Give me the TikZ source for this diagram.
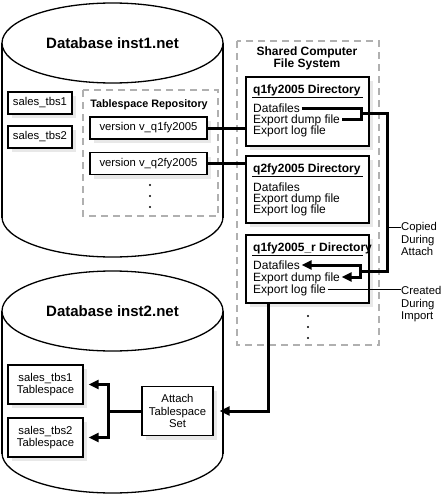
\documentclass[tikz,border=0pt]{standalone}
\usepackage{fontspec}
\setmainfont{Liberation Sans}
\usetikzlibrary{arrows.meta,calc,shadows}
\definecolor{dashgray}{HTML}{B0B0B0}
\definecolor{shadowgray}{HTML}{E8E8E8}
\begin{document}
\begin{tikzpicture}[x=1pt,y=-1pt,
  box/.style={draw, line width=1.2pt, fill=white, inner sep=0pt, align=center, font=\fontsize{11.3}{12.5}\selectfont},
  shadowed/.style={drop shadow={shadow xshift=4pt,shadow yshift=-4pt,fill=shadowgray,opacity=1}},
  dashedbox/.style={draw=dashgray, line width=2.5pt, dash pattern=on 7pt off 5pt},
  thickline/.style={line width=3pt, line join=miter},
  thinline/.style={line width=0.8pt},
  arr/.style={-{Triangle[length=10pt,width=9pt]}},
  cyl/.style={line width=1.3pt},
  dirtext/.style={anchor=west, inner sep=0pt, inner xsep=1.5pt, text height=8.5pt, text depth=0pt, font=\fontsize{12}{12}\selectfont},
  dirtitle/.style={dirtext, font=\bfseries\fontsize{12}{12}\selectfont},
  lbl/.style={anchor=north west, inner sep=0pt, align=left, font=\fontsize{11.3}{12.5}\selectfont},
  ]
\useasboundingbox (0,0) rectangle (443,495);

% ---------- Cylinder 1 ----------
\draw[cyl] (112.5,217) ellipse [x radius=110.5, y radius=40];
\fill[white] (2,43) rectangle (223,217);
\draw[cyl] (2,43) -- (2,217.5);
\draw[cyl] (223,43) -- (223,217.5);
\draw[cyl, fill=white] (112.5,43) ellipse [x radius=110.5, y radius=40];
\node[font=\bfseries\fontsize{15}{15}\selectfont] (db1) at (112.5,43) {Database inst1.net};

% ---------- Cylinder 2 ----------
\draw[cyl] (112.5,453) ellipse [x radius=110.5, y radius=40];
\fill[white] (2,311) rectangle (223,453);
\draw[cyl] (2,311) -- (2,453.5);
\draw[cyl] (223,311) -- (223,453.5);
\draw[cyl, fill=white] (112.5,311) ellipse [x radius=110.5, y radius=40];
\node[font=\bfseries\fontsize{15}{15}\selectfont] (db2) at (112.5,311) {Database inst2.net};

% ---------- Inst1 contents ----------
\node[box, shadowed, minimum width=64pt, minimum height=22pt] (tbs1) at (40,103) {sales\_tbs1};
\node[box, shadowed, minimum width=64pt, minimum height=22pt] (tbs2) at (40,137) {sales\_tbs2};
\draw[dashedbox] (83,90) rectangle (218,216);
\node[font=\bfseries\fontsize{10.8}{12}\selectfont] (repo) at (149,105) {Tablespace Repository};
\node[box, shadowed, minimum width=117pt, minimum height=22pt] (v1) at (148.5,128) {version v\_q1fy2005};
\node[box, shadowed, minimum width=117pt, minimum height=22pt] (v2) at (148.5,163.5) {version v\_q2fy2005};
\fill (150,185) circle (1.2);
\fill (150,196) circle (1.2);
\fill (150,207) circle (1.2);

% ---------- Shared file system ----------
\draw[dashedbox] (237,41) rectangle (379,345);
\node[align=center, font=\bfseries\fontsize{12}{12}\selectfont] (shared) at (307,58) {Shared Computer\\File System};

% Directory 1
\node[box, shadowed, minimum width=123pt, minimum height=69pt] (d1) at (307.5,111.5) {};
\node[dirtitle] (d1t) at (251.5,89) {q1fy2005 Directory};
\draw[line width=1.2pt] ($(d1.north west)+(7,21)$) -- ($(d1.north east)+(-7,21)$);
\node[dirtext] (d1a) at (251.5,108) {Datafiles};
\node[dirtext] (d1b) at (251.5,119) {Export dump file};
\node[dirtext] (d1c) at (251.5,130) {Export log file};

% Directory 2
\node[box, shadowed, minimum width=123pt, minimum height=67pt] (d2) at (307.5,189.5) {};
\node[dirtitle] (d2t) at (251.5,168) {q2fy2005 Directory};
\draw[line width=1.2pt] ($(d2.north west)+(7,21)$) -- ($(d2.north east)+(-7,21)$);
\node[dirtext] (d2a) at (251.5,187) {Datafiles};
\node[dirtext] (d2b) at (251.5,198) {Export dump file};
\node[dirtext] (d2c) at (251.5,209) {Export log file};

% Directory 3
\node[box, shadowed, minimum width=123pt, minimum height=68pt] (d3) at (307.5,269) {};
\node[dirtitle] (d3t) at (251.5,247) {q1fy2005\_r Directory};
\draw[line width=1.2pt] ($(d3.north west)+(7,21)$) -- ($(d3.north east)+(-7,21)$);
\node[dirtext] (d3a) at (251.5,265) {Datafiles};
\node[dirtext] (d3b) at (251.5,277) {Export dump file};
\node[dirtext] (d3c) at (251.5,289) {Export log file};

\fill (308,316) circle (1.2);
\fill (308,327) circle (1.2);
\fill (308,338) circle (1.2);

% ---------- Inst2 contents ----------
\node[box, shadowed, minimum width=75pt, minimum height=39pt] (tt1) at (45.5,384.5) {sales\_tbs1\\Tablespace};
\node[box, shadowed, minimum width=75pt, minimum height=39pt] (tt2) at (45.5,437.5) {sales\_tbs2\\Tablespace};
\node[box, shadowed, minimum width=71pt, minimum height=49pt, font=\fontsize{11.3}{12.5}\selectfont] (attach) at (177.5,411) {Attach\\Tablespace\\Set};

% ---------- Connectors ----------
\draw[thickline] (v1.east) -- (v1.east -| d1.west);
\draw[thickline] (v2.east) -- (v2.east -| d2.west);

\coordinate (bx1) at (361,113.5);
\coordinate (bx2) at (387,113.5);
\coordinate (bx3) at (387,271);
\coordinate (bx4) at (360,271);
\draw[thickline] (d1a.east) -| (bx1) |- (d1b.east);
\draw[thickline] (bx1) -- (bx2) -- (bx3) -- (bx4);
\draw[thickline, arr] (bx4) |- (d3a.east);
\draw[thickline, arr] (bx4) |- (d3b.east);

\coordinate (cp) at (387,227);
\node[lbl] (copied) at (401,222.5) {Copied\\During\\Attach};
\draw[thinline] (cp) -- (cp -| copied.west);

\node[lbl] (created) at (401,286.5) {Created\\During\\Import};
\draw[thinline] (d3c.east) -- (d3c.east -| created.west);

\draw[thickline, arr] ($(d3.south west)+(23,0)$) |- ([xshift=6pt]attach.east);

\coordinate (jx) at (108,411);
\draw[thickline] (attach.west) -- (jx);
\draw[thickline, arr] (jx) |- ([xshift=5pt]tt1.east);
\draw[thickline, arr] (jx) |- ([xshift=5pt]tt2.east);
\end{tikzpicture}
\end{document}
